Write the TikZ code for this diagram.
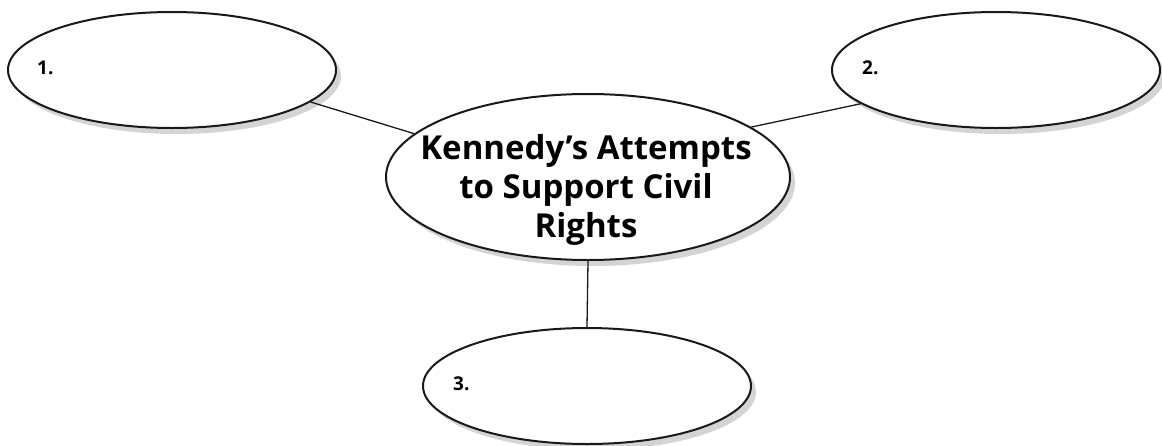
\documentclass[tikz,border=0pt]{standalone}
\usepackage{fontspec}
\setmainfont{Open Sans}
\usetikzlibrary{shapes.geometric,shadows}
\begin{document}
\begin{tikzpicture}[x=1pt,y=-1pt,
  bubble/.style={ellipse,draw=black!90,line width=2pt,fill=white,inner sep=0pt,
    drop shadow={shadow xshift=5pt,shadow yshift=-6pt,fill=black!17,opacity=1}},
  small/.style={bubble,minimum width=328pt,minimum height=116pt},
  big/.style={bubble,minimum width=404pt,minimum height=166pt},
  num/.style={anchor=west,inner sep=0pt,font=\fontsize{19pt}{22pt}\selectfont\bfseries},
  title/.style={align=center,inner sep=0pt,font=\fontsize{33pt}{39pt}\selectfont\bfseries},
  link/.style={draw=black!90,line width=1.3pt}]
\useasboundingbox (0,0) rectangle (1162,445);
\node[small] (e1) at (172,70) {};
\node[small] (e2) at (996,70) {};
\node[small] (e3) at (587,386) {};
\node[big] (c) at (588,177) {};
\node[title] (t) at (586,190) {Kennedy’s Attempts\\to Support Civil\\Rights};
\node[num] (n1) at ([xshift=30pt,yshift=2pt]e1.west) {1.};
\node[num] (n2) at ([xshift=31pt,yshift=2pt]e2.west) {2.};
\node[num] (n3) at ([xshift=31pt,yshift=2pt]e3.west) {3.};
\draw[link] (e1.-13) -- (c.166);
\draw[link] (c.17) -- (e2.194);
\draw[link] (c.south) -- (e3.north);
\end{tikzpicture}
\end{document}
